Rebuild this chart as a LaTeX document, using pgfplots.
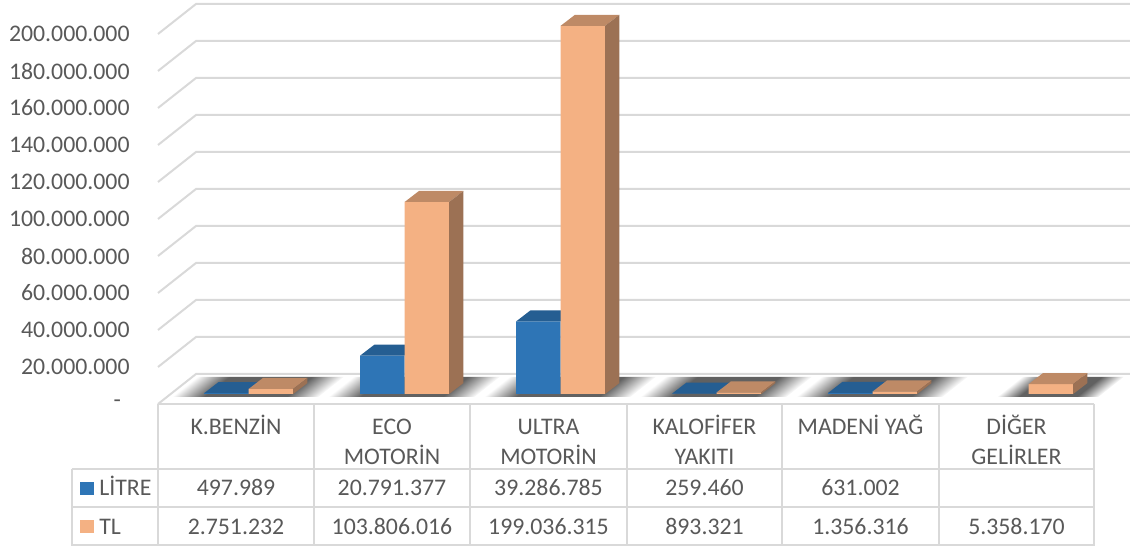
\documentclass[border=0pt]{standalone}
\usepackage{fontspec}
\setmainfont{Carlito}
\usepackage{pgfplots}
\pgfplotsset{compat=1.18}
\definecolor{litre}{HTML}{2E75B6}
\definecolor{litreTop}{HTML}{255E92}
\definecolor{tl}{HTML}{F4B183}
\definecolor{tlTop}{HTML}{BE8A66}
\definecolor{tlSide}{HTML}{9C7154}
\definecolor{gridc}{HTML}{D9D9D9}
\definecolor{txt}{HTML}{595959}
\pgfdeclarehorizontalshading{shadowsh}{100bp}{color(0bp)=(white); color(25bp)=(white); color(36bp)=(black!62); color(64bp)=(black!62); color(75bp)=(white); color(100bp)=(white)}
\begin{document}
\begin{tikzpicture}[font=\fontsize{11.9}{14.3}\selectfont]
% background: walls, floor (pixel coordinates of the reference)
\begin{scope}[shift={(-85.35pt,197pt)}, x=0.5pt, y=-0.5pt]
  \foreach \t in {0,20,...,200} {
    \pgfmathsetmacro\yf{404-1.85*\t}
    \pgfmathsetmacro\yb{374-1.85*\t}
    \draw[gridc, line width=1pt] (158,\yf) -- (196,\yb) -- (1130,\yb);
  }
  \draw[gridc, line width=1pt] (158,404) -- (1094,404);
\end{scope}
% soft slanted shadows on the floor
\begin{scope}[transform canvas={xslant=1.2667}]
\begin{scope}[shift={(-85.35pt,197pt)}, x=0.5pt, y=-0.5pt]
  \foreach \L/\R in {204.2/293.2, 360.2/449.2, 516.2/605.2, 672.2/761.2, 828.2/917.2, 1028.7/1073.2} {
    \shade[shading=shadowsh] (\L-29,397) rectangle (\R+29,377);
  }
\end{scope}
\end{scope}
\begin{axis}[
  at={(0,0)}, anchor=south west,
  x=78pt, y=0.925pt,
  xmin=-0.5, xmax=5.5, ymin=0, ymax=200,
  clip=false,
  axis line style={draw=none},
  xtick=\empty,
  ytick={0,20,...,200},
  yticklabels={{\raisebox{-1pt}{\makebox[8pt][l]{-}}},20.000.000,40.000.000,60.000.000,80.000.000,100.000.000,120.000.000,140.000.000,160.000.000,180.000.000,200.000.000},
  major tick length=0pt,
  tick style={draw=none},
  yticklabel style={anchor=east, inner sep=0pt, xshift=-20.35pt, yshift=-5pt, text=txt, font=\fontsize{11.9}{14.3}\selectfont},
]
% LITRE front faces
\addplot[ybar, bar width=0.285, bar shift=-0.1425, fill=litre, draw=none] coordinates {(0,0.497989) (1,20.791377) (2,39.286785) (3,0.259460) (4,0.631002)};
% LITRE top faces
\addplot[fill=litreTop, draw=none] coordinates {(-0.285,0.498) (-0.1933,6.448) (0.0917,6.448) (0,0.498)};
\addplot[fill=litreTop, draw=none] coordinates {(0.715,20.791) (0.8067,26.741) (1.0917,26.741) (1,20.791)};
\addplot[fill=litreTop, draw=none] coordinates {(1.715,39.287) (1.8067,45.237) (2.0917,45.237) (2,39.287)};
\addplot[fill=litreTop, draw=none] coordinates {(2.715,0.259) (2.8067,6.209) (3.0917,6.209) (3,0.259)};
\addplot[fill=litreTop, draw=none] coordinates {(3.715,0.631) (3.8067,6.581) (4.0917,6.581) (4,0.631)};
% TL front faces
\addplot[ybar, bar width=0.285, bar shift=0.1425, fill=tl, draw=none] coordinates {(0,2.751232) (1,103.806016) (2,199.036315) (3,0.893321) (4,1.356316) (5,5.358170)};
% TL top faces
\addplot[fill=tlTop, draw=none] coordinates {(0,2.751) (0.0917,8.701) (0.3767,8.701) (0.285,2.751)};
\addplot[fill=tlTop, draw=none] coordinates {(1,103.806) (1.0917,109.756) (1.3767,109.756) (1.285,103.806)};
\addplot[fill=tlTop, draw=none] coordinates {(2,199.036) (2.0917,204.986) (2.3767,204.986) (2.285,199.036)};
\addplot[fill=tlTop, draw=none] coordinates {(3,0.893) (3.0917,6.843) (3.3767,6.843) (3.285,0.893)};
\addplot[fill=tlTop, draw=none] coordinates {(4,1.356) (4.0917,7.306) (4.3767,7.306) (4.285,1.356)};
\addplot[fill=tlTop, draw=none] coordinates {(5,5.358) (5.0917,11.308) (5.3767,11.308) (5.285,5.358)};
% TL side faces
\addplot[fill=tlSide, draw=none] coordinates {(0.285,0) (0.3767,5.95) (0.3767,8.701) (0.285,2.751)};
\addplot[fill=tlSide, draw=none] coordinates {(1.285,0) (1.3767,5.95) (1.3767,109.756) (1.285,103.806)};
\addplot[fill=tlSide, draw=none] coordinates {(2.285,0) (2.3767,5.95) (2.3767,204.986) (2.285,199.036)};
\addplot[fill=tlSide, draw=none] coordinates {(3.285,0) (3.3767,5.95) (3.3767,6.843) (3.285,0.893)};
\addplot[fill=tlSide, draw=none] coordinates {(4.285,0) (4.3767,5.95) (4.3767,7.306) (4.285,1.356)};
\addplot[fill=tlSide, draw=none] coordinates {(5.285,0) (5.3767,5.95) (5.3767,11.308) (5.285,5.358)};
\end{axis}
% data table
\begin{scope}[shift={(-85.35pt,197pt)}, x=0.5pt, y=-0.5pt, every node/.style={text=txt, anchor=base, inner sep=0pt}]
  \draw[gridc, line width=1pt] (158,404) -- (1094,404);
  \draw[gridc, line width=1pt] (72,469) -- (1094,469);
  \draw[gridc, line width=1pt] (72,507) -- (1094,507);
  \draw[gridc, line width=1pt] (72,545) -- (1094,545);
  \foreach \x in {158,314,470,627,782,939,1094} { \draw[gridc, line width=1pt] (\x,404) -- (\x,546); }
  \draw[gridc, line width=1pt] (72,469) -- (72,546);
  % category names
  \node at (236,434.6) {K.BENZİN};
  \node at (392,434.6) {ECO};      \node at (392,464.6) {MOTORİN};
  \node at (548.5,434.6) {ULTRA};  \node at (548.5,464.6) {MOTORİN};
  \node at (704.5,434.6) {KALOFİFER}; \node at (704.5,464.6) {YAKITI};
  \node at (860.5,434.6) {MADENİ YAĞ};
  \node at (1016.5,434.6) {DİĞER}; \node at (1016.5,464.6) {GELİRLER};
  % legend keys
  \fill[litre] (80,482) rectangle (94,495);
  \fill[tl] (80,520) rectangle (94,533);
  \node[anchor=base west] at (99,495.6) {LİTRE};
  \node[anchor=base west] at (99,534.1) {TL};
  % values
  \node at (236,495.6) {497.989};
  \node at (392,495.6) {20.791.377};
  \node at (548.5,495.6) {39.286.785};
  \node at (704.5,495.6) {259.460};
  \node at (860.5,495.6) {631.002};
  \node at (236,534.1) {2.751.232};
  \node at (392,534.1) {103.806.016};
  \node at (548.5,534.1) {199.036.315};
  \node at (704.5,534.1) {893.321};
  \node at (860.5,534.1) {1.356.316};
  \node at (1016.5,534.1) {5.358.170};
\end{scope}
\pgfresetboundingbox
\path[use as bounding box] (-85.35pt,-76pt) rectangle (479.65pt,197pt);
\end{tikzpicture}
\end{document}
